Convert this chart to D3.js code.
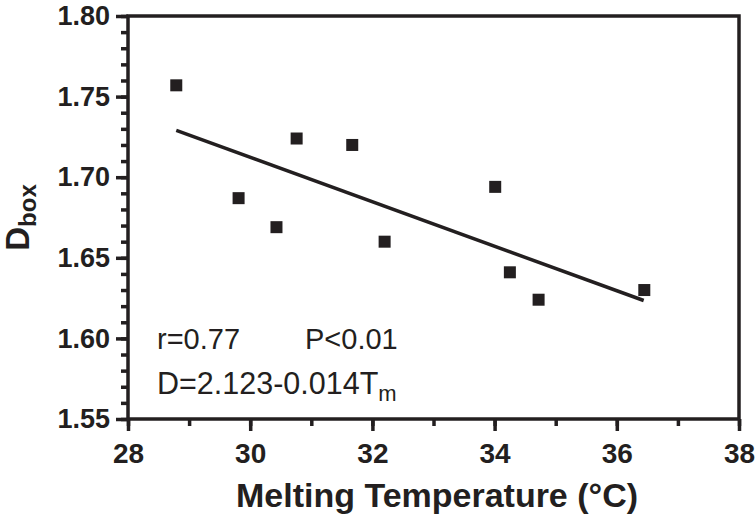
<!DOCTYPE html>
<html><head><meta charset="utf-8">
<script src="https://cdn.jsdelivr.net/npm/d3@7"></script>
<style>body{margin:0;background:#fff}svg{display:block}</style>
</head><body>
<svg id="c" width="755" height="518"></svg>
<script>
const tempValues = [28.79, 29.81, 30.43, 30.76, 31.67, 32.20, 34.01, 34.25, 34.72, 36.45];
const dboxValues = [1.757, 1.687, 1.669, 1.724, 1.720, 1.660, 1.694, 1.641, 1.624, 1.630];
const fitX = [28.79, 36.44];
const fitY = [1.729, 1.6235];
const xTicks = [28, 30, 32, 34, 36, 38];
const yTicks = [1.55, 1.60, 1.65, 1.70, 1.75, 1.80];

const svg = d3.select("#c");
const L = 128, R = 739, T = 16, B = 419;
const x = d3.scaleLinear().domain([28, 38]).range([L, R]);
const y = d3.scaleLinear().domain([1.55, 1.80]).range([B, T]);
const ink = "#231f20";
const font = "'Liberation Sans', Arial, sans-serif";
const sw = 3.5;

// frame
svg.append("rect").attr("x", L).attr("y", T).attr("width", R - L).attr("height", B - T)
  .attr("fill", "none").attr("stroke", ink).attr("stroke-width", sw);

// x axis
const xMinor = d3.range(28, 38.01, 1);
const xa = svg.append("g").attr("transform", `translate(0,${B})`);
xa.call(d3.axisBottom(x).tickValues(xMinor).tickSize(7).tickFormat(""));
xa.call(g => g.select(".domain").remove());
xa.selectAll("line").attr("stroke", ink).attr("stroke-width", sw);
const xb = svg.append("g").attr("transform", `translate(0,${B})`);
xb.call(d3.axisBottom(x).tickValues(xTicks).tickSize(12).tickPadding(12).tickFormat(d3.format("d")));
xb.call(g => g.select(".domain").remove());
xb.selectAll("line").attr("stroke", ink).attr("stroke-width", sw);
xb.selectAll("text").attr("font-family", font).attr("font-weight", "bold").attr("font-size", 28).attr("fill", ink);

// y axis
const yMinor = d3.range(0, 26).map(i => 1.55 + i * 0.01);
const ya = svg.append("g").attr("transform", `translate(${L},0)`);
ya.call(d3.axisLeft(y).tickValues(yMinor).tickSize(7).tickFormat(""));
ya.call(g => g.select(".domain").remove());
ya.selectAll("line").attr("stroke", ink).attr("stroke-width", sw);
const yb = svg.append("g").attr("transform", `translate(${L},0)`);
yb.call(d3.axisLeft(y).tickValues(yTicks).tickSize(12).tickPadding(6).tickFormat(d3.format(".2f")));
yb.call(g => g.select(".domain").remove());
yb.selectAll("line").attr("stroke", ink).attr("stroke-width", sw);
yb.selectAll("text").attr("font-family", font).attr("font-weight", "bold").attr("font-size", 27).attr("fill", ink);

// fit line
svg.append("line")
  .attr("x1", x(fitX[0])).attr("y1", y(fitY[0]))
  .attr("x2", x(fitX[1])).attr("y2", y(fitY[1]))
  .attr("stroke", ink).attr("stroke-width", 3.5);

// points
const s = 12;
svg.selectAll("rect.pt").data(tempValues).join("rect").attr("class", "pt")
  .attr("x", (d) => x(d) - s / 2)
  .attr("y", (d, i) => y(dboxValues[i]) - s / 2)
  .attr("width", s).attr("height", s).attr("fill", ink);

// axis titles
svg.append("text").attr("x", 437).attr("y", 507).attr("text-anchor", "middle")
  .attr("font-family", font).attr("font-weight", "bold").attr("font-size", 33).attr("fill", ink)
  .attr("textLength", 402).attr("lengthAdjust", "spacingAndGlyphs")
  .text("Melting Temperature (°C)");

const yt = svg.append("text").attr("transform", `translate(29,${(T + B) / 2}) rotate(-90)`)
  .attr("text-anchor", "middle").attr("font-family", font).attr("font-weight", "bold")
  .attr("font-size", 33).attr("fill", ink);
yt.append("tspan").text("D");
yt.append("tspan").attr("font-size", 24).attr("dy", 7).text("box");

// annotations
const ann = svg.append("g").attr("font-family", font).attr("font-size", 29).attr("fill", ink);
ann.append("text").attr("x", 157).attr("y", 349).text("r=0.77");
ann.append("text").attr("x", 305).attr("y", 349).text("P<0.01");
const eq = ann.append("text").attr("x", 157).attr("y", 394).attr("font-size", 30.5);
eq.append("tspan").text("D=2.123-0.014T");
eq.append("tspan").attr("font-size", 22).attr("dy", 7).text("m");
</script>
</body></html>
